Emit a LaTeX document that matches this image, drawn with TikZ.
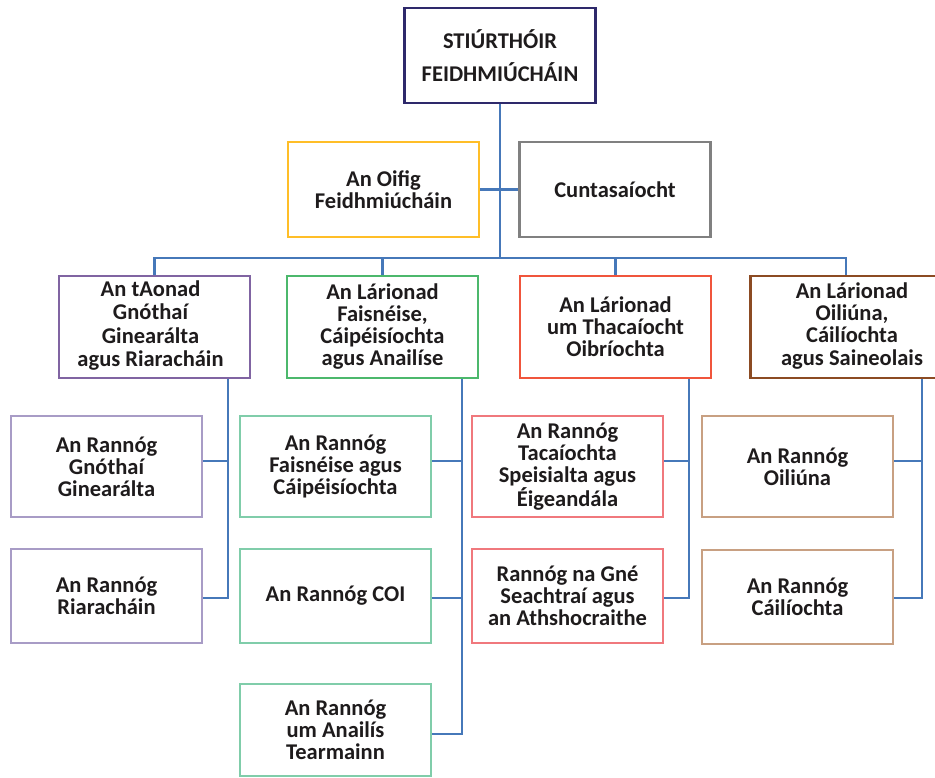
\documentclass[tikz,border=0pt]{standalone}
\usepackage{fontspec}
\setmainfont{Carlito}
\definecolor{navyc}{RGB}{46,41,107}
\definecolor{goldc}{RGB}{255,190,40}
\definecolor{grayc}{RGB}{128,128,128}
\definecolor{purpc}{RGB}{128,100,162}
\definecolor{grnc}{RGB}{76,184,108}
\definecolor{redc}{RGB}{240,85,60}
\definecolor{brnc}{RGB}{140,75,35}
\definecolor{lpurpc}{RGB}{168,156,198}
\definecolor{lgrnc}{RGB}{128,205,170}
\definecolor{lredc}{RGB}{240,120,125}
\definecolor{tanc}{RGB}{200,160,130}
\definecolor{linec}{RGB}{70,120,185}
\definecolor{txtc}{RGB}{30,27,28}
\begin{document}
\begin{tikzpicture}[x=1pt,y=-1pt,
  box/.style={draw, line width=2.5pt, fill=white, align=center,
    font=\fontsize{22.5}{22}\selectfont\bfseries, text=txtc,
    minimum width=191pt, inner sep=1pt, anchor=center},
  conn/.style={draw=linec, line width=2.3pt}]
\path[use as bounding box, clip] (0,0) rectangle (935,778);
\fill[white] (0,0) rectangle (935,778);
% top levels
\node[box, draw=navyc, minimum height=95pt] (top) at (500,55.5) {STIÚRTHÓIR\\[11pt]FEIDHMIÚCHÁIN};
\node[box, draw=goldc, minimum height=95pt] (oifig) at (383.5,189.5) {An Oifig\\Feidhmiúcháin};
\node[box, draw=grayc, minimum height=95pt] (cunt) at (615,189.5) {Cuntasaíocht};
% second row
\node[box, draw=purpc, minimum height=102pt, align=none] (purp) at (154.5,327) {\begin{tabular}{@{}c@{}}An tAonad\\[1pt]Gnóthaí\\[1pt]Ginearálta\\[1pt]agus Riaracháin\end{tabular}\hspace*{8pt}};
\node[box, draw=grnc, minimum height=102pt] (grn) at (382.5,327) {An Lárionad\\Faisnéise,\\Cáipéisíochta\\agus Anailíse};
\node[box, draw=redc, minimum height=102pt] (red) at (615.5,327) {An Lárionad\\um Thacaíocht\\Oibríochta};
\node[box, draw=brnc, minimum height=102pt, align=none] (brn) at (846,327) {\hspace*{12pt}\begin{tabular}{@{}c@{}}An Lárionad\\Oiliúna,\\Cáilíochta\\agus Saineolais\end{tabular}};
% children
\node[box, draw=lpurpc, minimum height=101pt] (pc1) at (106.5,466.5) {An Rannóg\\Gnóthaí\\Ginearálta};
\node[box, draw=lpurpc, minimum height=94pt] (pc2) at (106.5,596) {An Rannóg\\Riaracháin};
\node[box, draw=lgrnc, minimum height=101pt] (gc1) at (335.5,466.5) {An Rannóg\\Faisnéise agus\\Cáipéisíochta};
\node[box, draw=lgrnc, minimum height=94pt] (gc2) at (335.5,596) {An Rannóg COI};
\node[box, draw=lgrnc, minimum height=92pt] (gc3) at (335.5,730) {An Rannóg\\um Anailís\\Tearmainn};
\node[box, draw=lredc, minimum height=101pt] (rc1) at (567.5,466.5) {An Rannóg\\Tacaíochta\\Speisialta agus\\Éigeandála};
\node[box, draw=lredc, minimum height=94pt] (rc2) at (567.5,596) {Rannóg na Gné\\Seachtraí agus\\an Athshocraithe};
\node[box, draw=tanc, minimum height=101pt] (bc1) at (797.5,466.5) {An Rannóg\\Oiliúna};
\node[box, draw=tanc, minimum height=94pt] (bc2) at (797.5,597) {An Rannóg\\Cáilíochta};
% helper coordinates
\coordinate (bus) at (500,258);
\coordinate (r1) at (0,461);
\coordinate (r2) at (0,598);
\coordinate (r3) at (0,734);
\coordinate (ps) at (228,0);
\coordinate (gs) at (462,0);
\coordinate (rs) at (689,0);
\coordinate (bs) at (922,0);
% connectors
\draw[conn] (top.south) -- (top.south |- bus);
\draw[conn] (oifig.east) -- (cunt.west);
\draw[conn] (purp.north) -- (purp.north |- bus) -- (brn.north |- bus) -- (brn.north);
\draw[conn] (grn.north) -- (grn.north |- bus);
\draw[conn] (red.north) -- (red.north |- bus);
\draw[conn] (purp.south -| ps) -- (ps |- r2) -- (pc2.east |- r2);
\draw[conn] (pc1.east |- r1) -- (ps |- r1);
\draw[conn] (grn.south -| gs) -- (gs |- r3) -- (gc3.east |- r3);
\draw[conn] (gc1.east |- r1) -- (gs |- r1);
\draw[conn] (gc2.east |- r2) -- (gs |- r2);
\draw[conn] (red.south -| rs) -- (rs |- r2) -- (rc2.east |- r2);
\draw[conn] (rc1.east |- r1) -- (rs |- r1);
\draw[conn] (brn.south -| bs) -- (bs |- r2) -- (bc2.east |- r2);
\draw[conn] (bc1.east |- r1) -- (bs |- r1);
\end{tikzpicture}
\end{document}
